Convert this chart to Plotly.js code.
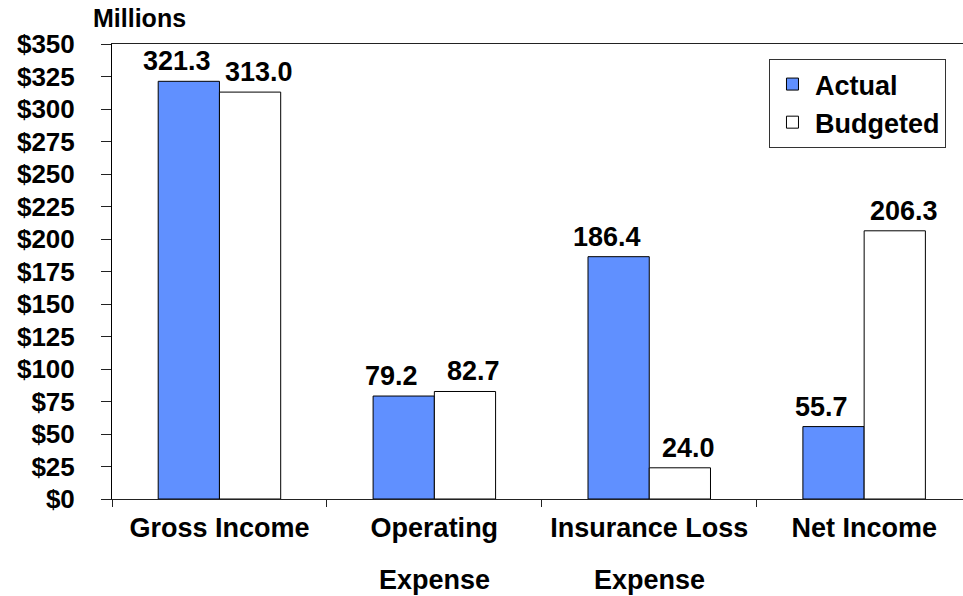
<!DOCTYPE html>
<html>
<head>
<meta charset="utf-8">
<script src="https://cdn.plot.ly/plotly-3.0.1.min.js"></script>
<style>html,body{margin:0;padding:0;background:#fff;}#chart{width:963px;height:596px;}</style>
</head>
<body>
<div id="chart"></div>
<script>
// Data
var categories = ['Gross Income', 'Operating Expense', 'Insurance Loss Expense', 'Net Income'];
var labelLine1 = ['Gross Income', 'Operating', 'Insurance Loss', 'Net Income'];
var labelLine2 = ['', 'Expense', 'Expense', ''];
var actualValues = [321.3, 79.2, 186.4, 55.7];
var budgetedValues = [313.0, 82.7, 24.0, 206.3];
var seriesNames = ['Actual', 'Budgeted'];
var yTickValues = [0, 25, 50, 75, 100, 125, 150, 175, 200, 225, 250, 275, 300, 325, 350];
var yTickLabels = ['$0', '$25', '$50', '$75', '$100', '$125', '$150', '$175', '$200', '$225', '$250', '$275', '$300', '$325', '$350'];
var unitLabel = 'Millions';

var FONT = 'Liberation Sans, Arial, sans-serif';
var BLUE = '#6090FF';
var SZ = 27;
function boldFont(size) { return {family: FONT, size: size, color: '#000', weight: 'bold'}; }

var traces = [
  {
    type: 'bar', name: seriesNames[0], x: categories, y: actualValues,
    legendgroup: 'a', offsetgroup: 'a',
    marker: {color: BLUE, line: {color: '#000', width: 1}},
    hoverinfo: 'x+y'
  },
  {
    type: 'bar', name: seriesNames[1], x: categories, y: budgetedValues,
    legendgroup: 'b', offsetgroup: 'b',
    marker: {color: '#FFFFFF', line: {color: '#000', width: 1}},
    hoverinfo: 'x+y'
  }
];

var annotations = [{
  text: unitLabel, xref: 'paper', yref: 'paper', x: -0.025, y: 1.0, yshift: 26,
  xanchor: 'left', yanchor: 'middle', showarrow: false, font: boldFont(25)
}];
// second line of the two-line category labels
categories.forEach(function (c, i) {
  if (labelLine2[i]) {
    annotations.push({
      text: labelLine2[i], xref: 'x', yref: 'paper', x: c, y: -0.178,
      xanchor: 'center', yanchor: 'middle', showarrow: false, font: boldFont(SZ)
    });
  }
});
// value labels above bars (Actual bars sit left of centre, Budgeted right)
var BAR_HALF = 0.57 / 4; // half of a bar's share of the category
categories.forEach(function (c, i) {
  annotations.push({
    text: actualValues[i].toFixed(1), xref: 'x', yref: 'y',
    x: i - BAR_HALF, y: actualValues[i], xshift: -12, yshift: 3,
    xanchor: 'center', yanchor: 'bottom', showarrow: false, font: boldFont(SZ)
  });
  annotations.push({
    text: budgetedValues[i].toFixed(1), xref: 'x', yref: 'y',
    x: i + BAR_HALF, y: budgetedValues[i], xshift: 9, yshift: 3,
    xanchor: 'center', yanchor: 'bottom', showarrow: false, font: boldFont(SZ)
  });
});

var layout = {
  width: 963, height: 596,
  margin: {l: 112, r: 0, t: 44, b: 97, pad: 0},
  paper_bgcolor: '#fff', plot_bgcolor: '#fff',
  barmode: 'group', bargap: 0.43, bargroupgap: 0,
  showlegend: true,
  legend: {
    x: 0.772, y: 0.967, xanchor: 'left', yanchor: 'top',
    bordercolor: '#333', borderwidth: 1, bgcolor: '#fff',
    traceorder: 'grouped', tracegroupgap: 0, itemwidth: 35,
    font: boldFont(SZ)
  },
  xaxis: {
    type: 'category', range: [-0.5, 3.46],
    tickvals: categories, ticktext: labelLine1,
    showline: true, linecolor: '#222', linewidth: 1, mirror: true,
    ticks: 'outside', tickson: 'boundaries', ticklen: 7, tickcolor: '#222',
    ticklabelstandoff: 5,
    showgrid: false, zeroline: false,
    tickfont: boldFont(SZ)
  },
  yaxis: {
    range: [0, 350], tickvals: yTickValues, ticktext: yTickLabels,
    showline: true, linecolor: '#000', linewidth: 1,
    ticks: 'outside', ticklen: 10, tickcolor: '#222',
    ticklabelstandoff: 21,
    showgrid: false, zeroline: false,
    tickfont: boldFont(26)
  },
  annotations: annotations
};

Plotly.newPlot('chart', traces, layout, {staticPlot: true, displayModeBar: false});
</script>
</body>
</html>
